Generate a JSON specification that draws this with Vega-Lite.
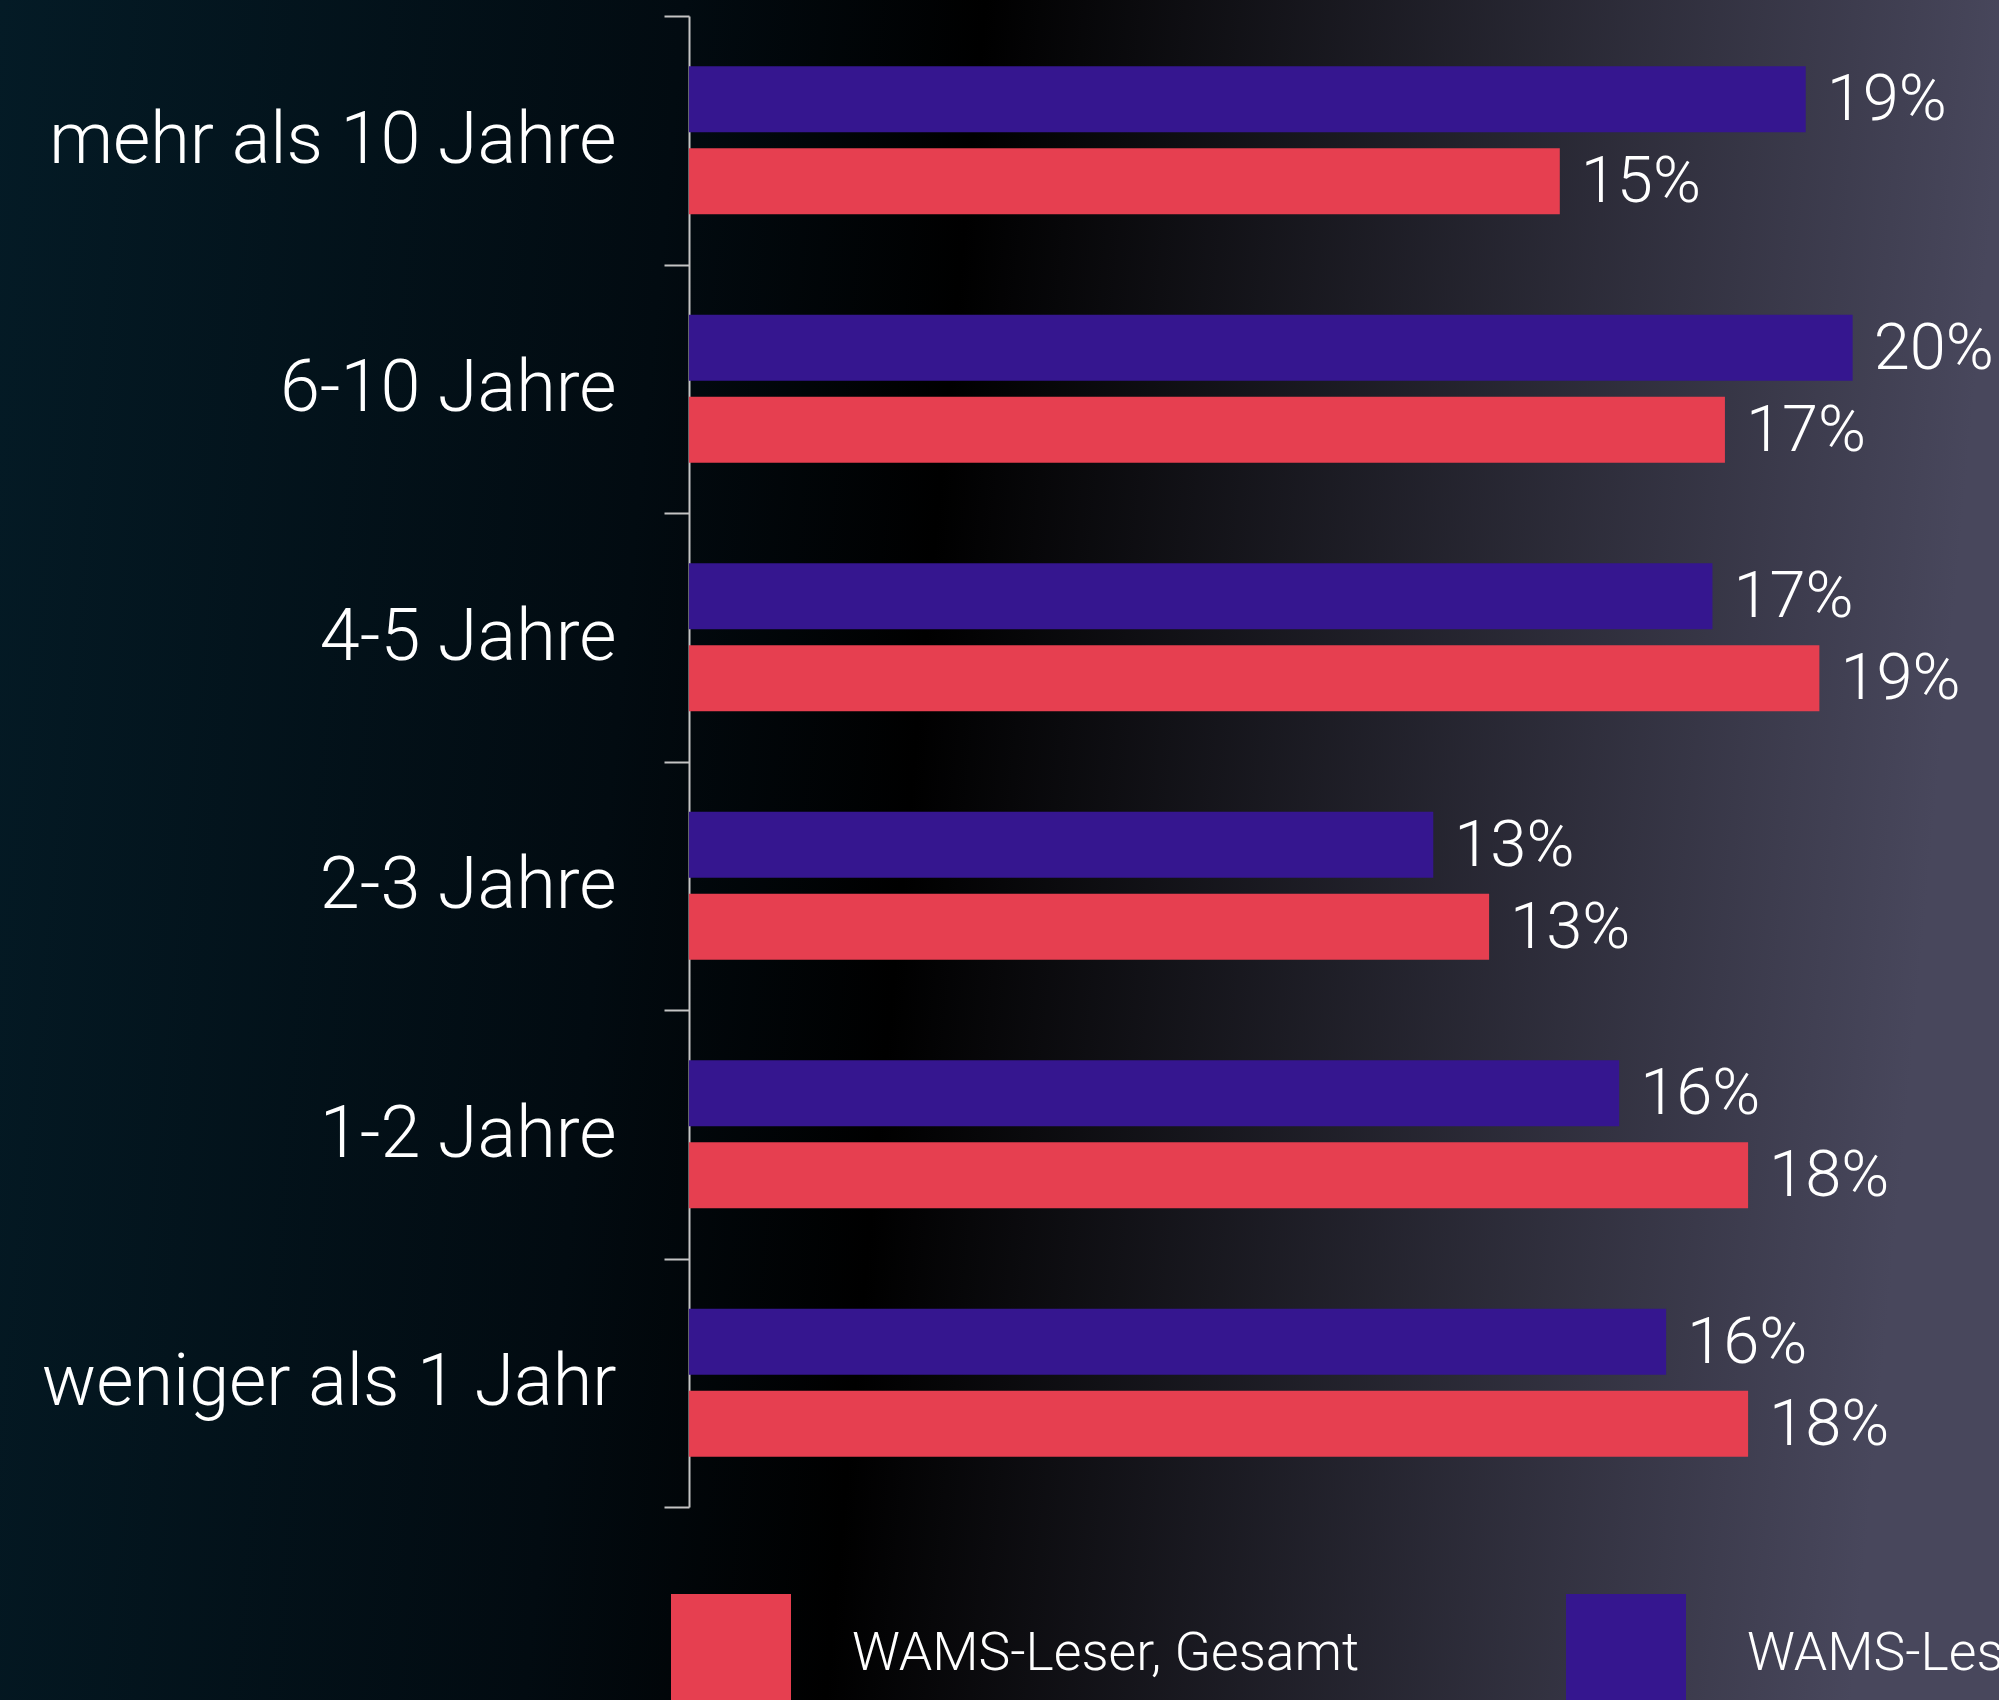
{
  "$schema": "https://vega.github.io/schema/vega-lite/v6.json",
  "width": 1999,
  "height": 1700,
  "autosize": {"type": "none"},
  "padding": 0,
  "background": "#02121b",
  "config": {
    "view": {
      "stroke": null,
      "fill": {
        "gradient": "linear",
        "x1": 0, "y1": 0, "x2": 1, "y2": 0.08,
        "stops": [
          {"offset": 0, "color": "#041b26"},
          {"offset": 0.34, "color": "#020b11"},
          {"offset": 0.49, "color": "#000000"},
          {"offset": 1, "color": "#48475c"}
        ]
      }
    },
    "font": "Roboto"
  },
  "data": {
    "values": [
      {"Dauer": "mehr als 10 Jahre", "Gruppe": "WAMS-Leser, Abonnenten", "Anteil": 0.1880},
      {"Dauer": "mehr als 10 Jahre", "Gruppe": "WAMS-Leser, Gesamt", "Anteil": 0.1466},
      {"Dauer": "6-10 Jahre", "Gruppe": "WAMS-Leser, Abonnenten", "Anteil": 0.1959},
      {"Dauer": "6-10 Jahre", "Gruppe": "WAMS-Leser, Gesamt", "Anteil": 0.1744},
      {"Dauer": "4-5 Jahre", "Gruppe": "WAMS-Leser, Abonnenten", "Anteil": 0.1723},
      {"Dauer": "4-5 Jahre", "Gruppe": "WAMS-Leser, Gesamt", "Anteil": 0.1903},
      {"Dauer": "2-3 Jahre", "Gruppe": "WAMS-Leser, Abonnenten", "Anteil": 0.1253},
      {"Dauer": "2-3 Jahre", "Gruppe": "WAMS-Leser, Gesamt", "Anteil": 0.1347},
      {"Dauer": "1-2 Jahre", "Gruppe": "WAMS-Leser, Abonnenten", "Anteil": 0.1566},
      {"Dauer": "1-2 Jahre", "Gruppe": "WAMS-Leser, Gesamt", "Anteil": 0.1783},
      {"Dauer": "weniger als 1 Jahr", "Gruppe": "WAMS-Leser, Abonnenten", "Anteil": 0.1645},
      {"Dauer": "weniger als 1 Jahr", "Gruppe": "WAMS-Leser, Gesamt", "Anteil": 0.1783}
    ]
  },
  "encoding": {
    "y": {
      "field": "Dauer",
      "type": "nominal",
      "sort": ["mehr als 10 Jahre", "6-10 Jahre", "4-5 Jahre", "2-3 Jahre", "1-2 Jahre", "weniger als 1 Jahr"],
      "scale": {"paddingInner": 0, "paddingOuter": 0, "range": [16, 1507]},
      "axis": {
        "title": null,
        "offset": -689,
        "tickBand": "extent",
        "tickSize": 25,
        "tickWidth": 2,
        "tickColor": "#c4c4c4",
        "domainColor": "#c4c4c4",
        "domainWidth": 2,
        "grid": false,
        "labelFont": "Roboto",
        "labelFontWeight": 300,
        "labelFontSize": 72,
        "labelColor": "#ffffff",
        "labelPadding": 48,
        "labelLimit": 1000
      }
    },
    "yOffset": {
      "field": "Gruppe",
      "type": "nominal",
      "sort": ["WAMS-Leser, Abonnenten", "WAMS-Leser, Gesamt"],
      "scale": {"paddingInner": 0.195, "paddingOuter": 0.6126}
    },
    "x": {
      "field": "Anteil",
      "type": "quantitative",
      "scale": {"domain": [0, 0.22054], "range": [689, 1999], "nice": false, "zero": true},
      "axis": null
    }
  },
  "layer": [
    {
      "mark": {"type": "bar", "strokeWidth": 0},
      "encoding": {
        "color": {
          "field": "Gruppe",
          "type": "nominal",
          "scale": {
            "domain": ["WAMS-Leser, Gesamt", "WAMS-Leser, Abonnenten"],
            "range": ["#e63f50", "#35168f"]
          },
          "legend": {
            "title": null,
            "orient": "none",
            "legendX": 671,
            "legendY": 1594,
            "direction": "horizontal",
            "padding": 0,
            "symbolType": "square",
            "symbolSize": 14400,
            "symbolStrokeWidth": 0,
            "symbolOpacity": 1,
            "labelFont": "Roboto",
            "labelFontWeight": 300,
            "labelFontSize": 53.5,
            "labelColor": "#ffffff",
            "labelOffset": 61,
            "columnPadding": 206,
            "labelLimit": 1200
          }
        }
      }
    },
    {
      "mark": {
        "type": "text",
        "align": "left",
        "baseline": "middle",
        "dx": 21,
        "dy": 1,
        "font": "Roboto",
        "fontWeight": 300,
        "fontSize": 65,
        "color": "#ffffff"
      },
      "encoding": {
        "text": {"field": "Anteil", "type": "quantitative", "format": ".0%"}
      }
    }
  ]
}
